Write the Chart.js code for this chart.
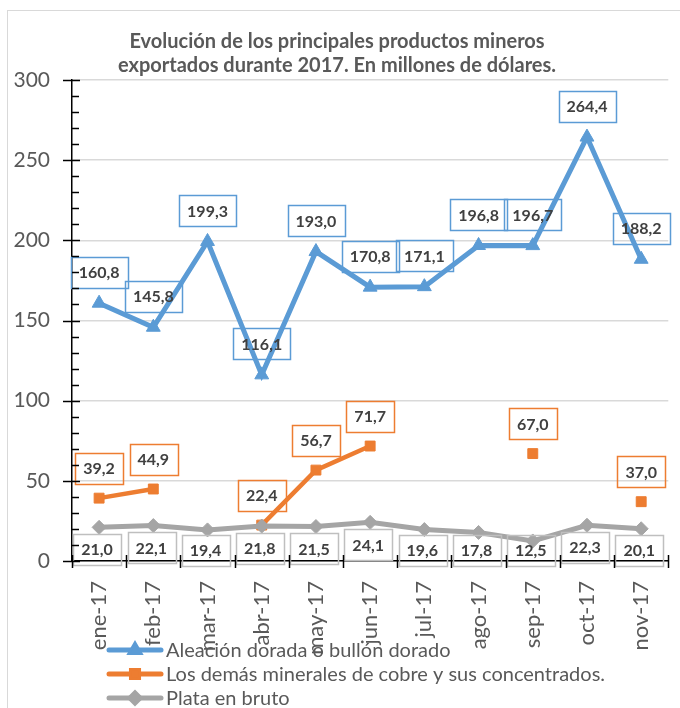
<!DOCTYPE html>
<html><head><meta charset="utf-8">
<script src="https://cdn.jsdelivr.net/npm/chart.js@4/dist/chart.umd.min.js"></script>
<style>
html,body{margin:0;padding:0;background:#fff;overflow:hidden}
#frame{position:absolute;left:7px;top:10px;width:720px;height:740px;border:1px solid #d9d9d9}
#wrap{position:absolute;left:0;top:0;width:680px;height:708px}
</style></head><body>
<div id="frame"></div>
<div id="wrap"><canvas id="c" width="680" height="708"></canvas></div>
<script>
const categories = ['ene-17','feb-17','mar-17','abr-17','may-17','jun-17','jul-17','ago-17','sep-17','oct-17','nov-17'];
const aleacion = [160.8,145.8,199.3,116.1,193.0,170.8,171.1,196.8,196.7,264.4,188.2];
const cobre = [39.2,44.9,null,22.4,56.7,71.7,null,null,67.0,null,37.0];
const plata = [21.0,22.1,19.4,21.8,21.5,24.1,19.6,17.8,12.5,22.3,20.1];
const seriesNames = ['Aleación dorada o bullón dorado','Los demás minerales de cobre y sus concentrados.','Plata en bruto'];
const titleLines = ['Evolución de los principales productos mineros','exportados durante 2017. En millones de dólares.'];
const yMin = 0, yMax = 300, yStep = 50, yMinorStep = 10;

const BLUE = '#5b9bd5', ORANGE = '#ed7d31', GRAY = '#a5a5a5', GRAYBOX = '#bfbfbf';
const TXT = '#595959', LBL = '#404040';
const FONT = 'Lato';

function fmt(v){ return v.toFixed(1).replace('.', ','); }

const labelPlugin = {
  id: 'boxLabels',
  afterDatasetsDraw(chart){
    const ctx = chart.ctx;
    ctx.save();
    ctx.font = 'bold 16px ' + FONT;
    ctx.textAlign = 'center';
    ctx.textBaseline = 'middle';
    const cfg = [
      {ds:0, color:BLUE, pos:(x,y)=>[x, y-31]},
      {ds:1, color:ORANGE, pos:(x,y)=>[x, y-30]},
      {ds:2, color:GRAYBOX, pos:(x,y)=>[x-2, Math.min(y+22, 550)]}
    ];
    cfg.forEach(c=>{
      const meta = chart.getDatasetMeta(c.ds);
      const data = chart.data.datasets[c.ds].data;
      meta.data.forEach((el,i)=>{
        const v = data[i];
        if (v === null || v === undefined) return;
        const [cx, cy] = c.pos(el.x, el.y);
        const t = fmt(v);
        const w = ctx.measureText(t).width + 16;
        const h = 31;
        ctx.lineWidth = 1.5;
        ctx.strokeStyle = c.color;
        ctx.strokeRect(Math.round(cx - w/2)+0.5, Math.round(cy - h/2)+0.5, Math.round(w), h);
        ctx.fillStyle = LBL;
        ctx.fillText(t, cx, cy+1);
      });
    });
    ctx.restore();
  }
};

const decorPlugin = {
  id: 'decor',
  afterDraw(chart){
    const ctx = chart.ctx;
    const xs = chart.scales.x, ys = chart.scales.y;
    const ca = chart.chartArea;
    ctx.save();
    ctx.strokeStyle = '#000';
    ctx.lineWidth = 1.5;
    for (let v = yMin; v <= yMax; v += yMinorStep){
      const y = Math.round(ys.getPixelForValue(v)) + 0.5;
      ctx.beginPath();
      if (v % yStep === 0){ ctx.moveTo(ca.left-9, y); ctx.lineTo(ca.left+8, y); }
      else { ctx.moveTo(ca.left, y); ctx.lineTo(ca.left+7, y); }
      ctx.stroke();
    }
    const n = categories.length;
    const w = (xs.getPixelForValue(1) - xs.getPixelForValue(0));
    const yb = ca.bottom;
    for (let i = 0; i <= n; i++){
      const x = Math.round(xs.getPixelForValue(0) - w/2 + i*w) + 0.5;
      ctx.beginPath(); ctx.moveTo(x, yb-6); ctx.lineTo(x, yb+7); ctx.stroke();
    }
    ctx.fillStyle = TXT;
    ctx.font = 'bold 20px ' + FONT;
    ctx.textAlign = 'center';
    ctx.textBaseline = 'middle';
    ctx.fillText(titleLines[0], 337, 42);
    ctx.fillText(titleLines[1], 337, 66);
    const colors = [BLUE, ORANGE, GRAY];
    const shapes = ['triangle','rect','rectRot'];
    ctx.font = '20px ' + FONT;
    ctx.textAlign = 'left';
    seriesNames.forEach((name,i)=>{
      const y = 650 + i*24;
      ctx.strokeStyle = colors[i];
      ctx.lineWidth = 5;
      ctx.lineCap = 'round';
      ctx.beginPath(); ctx.moveTo(109, y); ctx.lineTo(161, y); ctx.stroke();
      ctx.fillStyle = colors[i];
      ctx.beginPath();
      Chart.helpers.drawPoint(ctx, {pointStyle: shapes[i], radius: 5, borderWidth: 1}, 135, y);
      ctx.fill();
      ctx.fillStyle = TXT;
      ctx.fillText(name, 166, y+1);
    });
    ctx.restore();
  }
};

new Chart(document.getElementById('c'), {
  type: 'line',
  data: {
    labels: categories,
    datasets: [
      {label: seriesNames[0], data: aleacion, borderColor: BLUE, backgroundColor: BLUE, borderWidth: 5,
       pointStyle: 'triangle', pointRadius: 8, pointBorderWidth: 1, order: 3, spanGaps: false},
      {label: seriesNames[1], data: cobre, borderColor: ORANGE, backgroundColor: ORANGE, borderWidth: 4.5,
       pointStyle: 'rect', pointRadius: 7, pointBorderWidth: 1, order: 2, spanGaps: false},
      {label: seriesNames[2], data: plata, borderColor: GRAY, backgroundColor: GRAY, borderWidth: 5,
       pointStyle: 'rectRot', pointRadius: 7, pointBorderWidth: 1, order: 1, spanGaps: false}
    ]
  },
  options: {
    responsive: false,
    devicePixelRatio: 1,
    animation: false,
    layout: {padding: {top: 80, right: 6, left: 0, bottom: 0}},
    plugins: {legend: {display: false}, title: {display: false}, tooltip: {enabled: false}},
    elements: {line: {tension: 0, borderJoinStyle: 'miter'}},
    scales: {
      x: {
        offset: true,
        grid: {display: false},
        border: {color: '#000', width: 1.5},
        ticks: {color: TXT, font: {family: FONT, size: 22}, minRotation: 90, maxRotation: 90, padding: 12, autoSkip: false},
        afterFit(s){ s.height = 147; }
      },
      y: {
        min: yMin, max: yMax,
        grid: {color: '#d9d9d9', lineWidth: 1.5, drawTicks: false},
        border: {color: '#000', width: 1.5},
        ticks: {stepSize: yStep, color: TXT, font: {family: FONT, size: 21}, padding: 22},
        afterFit(s){ s.width = 72; }
      }
    }
  },
  plugins: [labelPlugin, decorPlugin]
});
</script>
</body></html>
